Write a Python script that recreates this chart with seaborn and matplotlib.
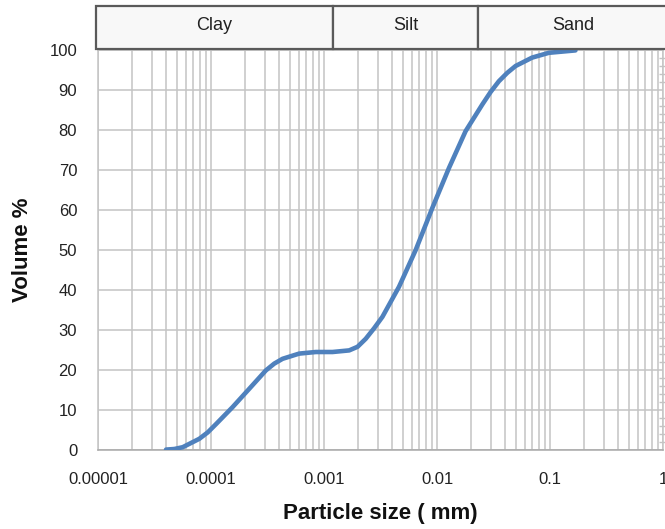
import numpy as np
import pandas as pd
import matplotlib
matplotlib.use("Agg")
import matplotlib.pyplot as plt
import matplotlib.ticker as mticker
import matplotlib.transforms as mtransforms
from matplotlib.patches import Rectangle
import seaborn as sns

# Cumulative particle size distribution
particle_size_mm = [4.0e-5, 4.74e-5, 5.62e-5, 7.88e-5, 9.35e-5, 1.11e-4, 1.55e-4,
                    2.18e-4, 3.06e-4, 3.63e-4, 4.30e-4, 6.03e-4, 8.47e-4, 1.19e-3,
                    1.67e-3, 1.98e-3, 2.34e-3, 2.77e-3, 3.29e-3, 4.61e-3, 6.48e-3,
                    9.09e-3, 0.01276, 0.0179, 0.0252, 0.0298, 0.0353, 0.0419,
                    0.0496, 0.0695, 0.0977, 0.168]
volume_pct = [0.1, 0.25, 0.7, 2.8, 4.4, 6.5, 10.7,
              15.3, 19.9, 21.6, 22.8, 24.1, 24.5, 24.5,
              24.9, 25.8, 27.8, 30.4, 33.3, 40.8, 50.0,
              60.5, 70.5, 79.7, 86.4, 89.5, 92.2, 94.3,
              96.0, 98.1, 99.3, 99.9]

# Texture classes shown above the plot (lower/upper bounds in mm)
class_names = ["Clay", "Silt", "Sand"]
class_bounds = [(0.96e-5, 1.2e-3), (1.2e-3, 0.0231), (0.0231, 1.1)]

x_tick_values = [1e-5, 1e-4, 1e-3, 1e-2, 1e-1, 1]
x_tick_labels = ["0.00001", "0.0001", "0.001", "0.01", "0.1", "1"]

sns.set_theme(style="white")
plt.rcParams["font.family"] = ["Liberation Sans", "DejaVu Sans"]

grid_col = "#c4c4c4"
df = pd.DataFrame({"size": particle_size_mm, "volume": volume_pct})

fig = plt.figure(figsize=(6.65, 5.29), dpi=100)
ax = fig.add_axes([98 / 665, 79 / 529, 565 / 665, 400 / 529])

sns.lineplot(data=df, x="size", y="volume", ax=ax, color="#4f81bd",
             linewidth=3.3, solid_capstyle="round", solid_joinstyle="round",
             zorder=3)

ax.set_xscale("log")
ax.set_xlim(1e-5, 1)
ax.set_ylim(0, 100)
ax.set_xticks(x_tick_values)
ax.set_xticklabels(x_tick_labels)
ax.xaxis.set_minor_locator(mticker.LogLocator(base=10, subs=np.arange(2, 10)))
ax.xaxis.set_minor_formatter(mticker.NullFormatter())
ax.yaxis.set_major_locator(mticker.MultipleLocator(10))
ax.yaxis.set_minor_locator(mticker.MultipleLocator(2))

ax.grid(which="both", axis="x", color=grid_col, linewidth=1.1)
ax.grid(which="major", axis="y", color=grid_col, linewidth=1.1)
for side in ax.spines.values():
    side.set_color(grid_col)
    side.set_linewidth(1.1)
ax.spines["bottom"].set_color("#a8a8a8")

ax.tick_params(axis="x", which="both", direction="out", length=5, width=1,
               color="#a8a8a8", labelsize=12, labelcolor="#222222", pad=11)
ax.tick_params(axis="y", which="major", left=False, labelsize=12,
               labelcolor="#222222", pad=9)
ax.tick_params(axis="y", which="minor", left=False, right=True,
               direction="inout", length=6, width=1, color=grid_col)

ax.set_xlabel("Particle size ( mm)", fontsize=16, fontweight="bold",
              color="#111111", labelpad=11)
ax.set_ylabel("Volume %", fontsize=16, fontweight="bold", color="#111111",
              labelpad=12)

# Class boxes above the plot: x in data units, y in axes units
trans = mtransforms.blended_transform_factory(ax.transData, ax.transAxes)
y0, y1 = 1.0025, 1.11
for name, (lo, hi) in zip(class_names, class_bounds):
    rect = Rectangle((lo, y0), hi - lo, y1 - y0, transform=trans,
                     facecolor="#f8f8f8", edgecolor="#5a5a5a", linewidth=1.6,
                     clip_on=False, zorder=5)
    ax.add_patch(rect)
    ax.text(np.sqrt(lo * hi), y0 + (y1 - y0) * 0.54, name, transform=trans,
            ha="center", va="center", fontsize=13, color="#222222", zorder=6,
            clip_on=False)

fig.savefig("out.png", dpi=100)
